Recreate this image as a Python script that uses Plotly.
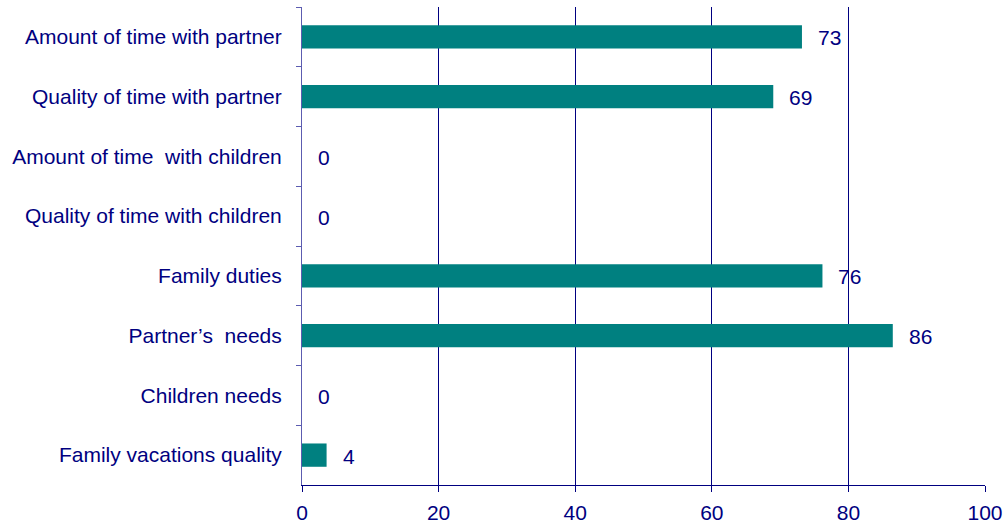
import plotly.graph_objects as go

categories = [
    "Amount of time with partner",
    "Quality of time with partner",
    "Amount of time  with children",
    "Quality of time with children",
    "Family duties",
    "Partner\u2019s  needs",
    "Children needs",
    "Family vacations quality",
]
values = [73, 69, 0, 0, 76, 86, 0, 4]
bar_lengths = [73.2, 69, 0, 0, 76.2, 86.5, 0, 3.6]
x_ticks = [0, 20, 40, 60, 80, 100]

NAVY = "#000080"
TEAL = "#008080"
FONT = "Liberation Sans, Arial, sans-serif"

fig = go.Figure()
fig.add_trace(go.Bar(
    y=categories,
    x=bar_lengths,
    orientation="h",
    marker=dict(color=TEAL, line=dict(width=0)),
    width=0.39,
    hoverinfo="skip",
))

for cat, v, b in zip(categories, values, bar_lengths):
    fig.add_annotation(
        x=b, y=cat, text=str(v), showarrow=False,
        xanchor="left", yanchor="middle", xshift=14, yshift=-1,
        font=dict(family=FONT, size=21, color=NAVY),
    )

fig.update_layout(
    width=1007, height=523,
    margin=dict(l=302, r=22, t=7, b=38, autoexpand=False),
    paper_bgcolor="white", plot_bgcolor="white",
    showlegend=False,
    font=dict(family=FONT, size=21, color=NAVY),
    xaxis=dict(
        range=[0, 100], tickvals=x_ticks, ticktext=[str(t) for t in x_ticks],
        showgrid=True, gridcolor=NAVY, gridwidth=1,
        showline=True, linecolor=NAVY, linewidth=1,
        ticks="outside", ticklen=6, tickcolor=NAVY,
        ticklabelstandoff=3,
        zeroline=False, fixedrange=True, automargin=False,
        tickfont=dict(family=FONT, size=21, color=NAVY),
    ),
    yaxis=dict(
        autorange="reversed",
        showgrid=False,
        showline=True, linecolor="#5c5cb0", linewidth=1,
        ticks="outside", ticklen=5, tickcolor="#5c5cb0",
        tickson="boundaries",
        ticklabelstandoff=15,
        automargin=False,
        tickfont=dict(family=FONT, size=21, color=NAVY),
        fixedrange=True,
    ),
)

fig.write_html(
    "out.html",
    config={"displayModeBar": False, "staticPlot": True},
    post_script="document.body.style.margin='0';document.body.style.overflow='hidden';",
)
